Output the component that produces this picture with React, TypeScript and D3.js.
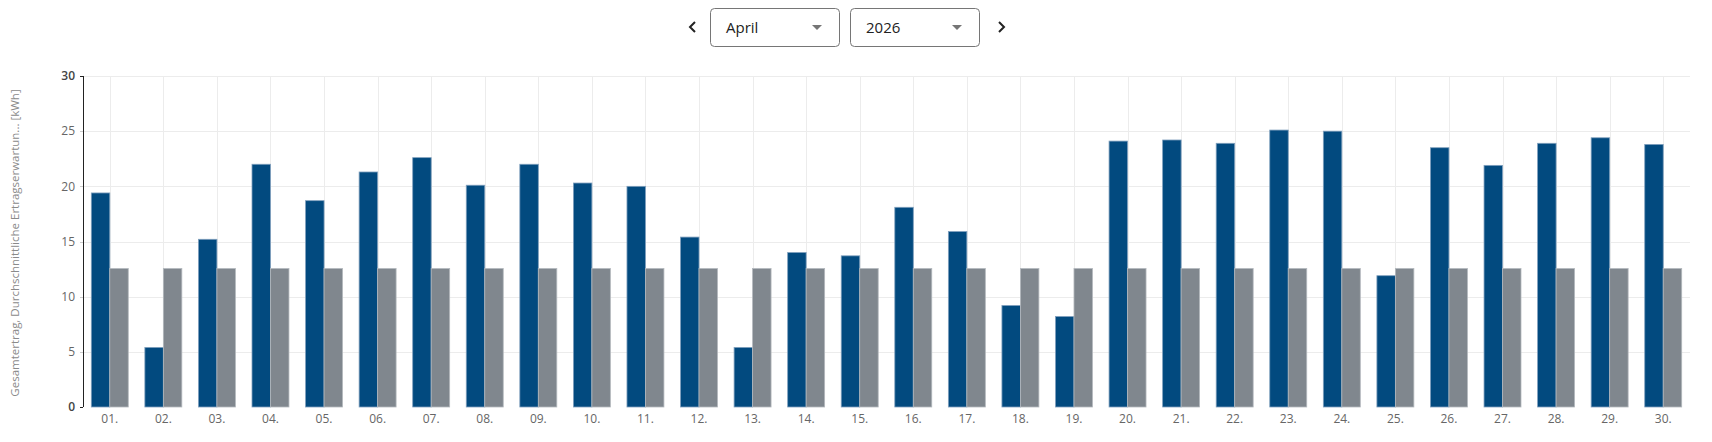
import * as d3 from 'd3';

// daily values, April 2026 [kWh]
const days = d3.range(1, 31).map((d) => (d < 10 ? '0' + d : '' + d) + '.');
const totalYield = [
  19.4, 5.4, 15.2, 22.0, 18.7, 21.3, 22.6, 20.1, 22.0, 20.3,
  20.0, 15.4, 5.4, 14.0, 13.7, 18.1, 15.9, 9.2, 8.2, 24.1,
  24.2, 23.9, 25.1, 25.0, 11.9, 23.5, 21.9, 23.9, 24.4, 23.8,
];
const expectedYield = days.map(() => 12.55);
const yTicks = [0, 5, 10, 15, 20, 25, 30];
const seriesKeys = ['total', 'expected'];

const W = 1712;
const H = 442;
const margin = { top: 76, right: 22, bottom: 35, left: 83 };
const font = '"Open Sans", Lato, sans-serif';

const Chevron = ({ x, y, dir }: { x: number; y: number; dir: number }) => (
  <path
    d={`M${x + 3 * dir},${y - 5} L${x - 2 * dir},${y} L${x + 3 * dir},${y + 5}`}
    fill="none"
    stroke="#222"
    strokeWidth={2}
  />
);

const SelectBox = ({ x, w, label }: { x: number; w: number; label: string }) => (
  <g>
    <rect x={x + 0.5} y={8.5} width={w} height={38} rx={4} fill="#fff" stroke="#767676" />
    <text x={x + 16} y={33} fontSize={15} fill="#222" fontFamily={font}>
      {label}
    </text>
    <path d={`M${x + w - 27},${25} h10 l-5,5 z`} fill="#757575" />
  </g>
);

const App = () => {
  const x = d3
    .scaleBand()
    .domain(days)
    .range([margin.left, W - margin.right])
    .paddingInner(0.31)
    .paddingOuter(0.155);
  const x1 = d3.scaleBand().domain(seriesKeys).range([0, x.bandwidth()]);
  const y = d3
    .scaleLinear()
    .domain([0, 30])
    .range([H - margin.bottom, margin.top]);

  const center = (d: string) => (x(d) as number) + x.bandwidth() / 2;
  const x0 = margin.left;
  const x2 = W - margin.right;

  return (
    <svg
      width={W}
      height={H}
      style={{ position: 'absolute', left: 0, top: 0, display: 'block' }}
    >
      {/* month / year picker */}
      <Chevron x={692} y={27} dir={1} />
      <SelectBox x={710} w={129} label="April" />
      <SelectBox x={850} w={129} label="2026" />
      <Chevron x={1002} y={27} dir={-1} />

      {/* grid */}
      <g stroke="#ececec" strokeWidth={1}>
        {yTicks.slice(1).map((t) => (
          <line key={t} x1={x0} x2={x2} y1={Math.round(y(t)) + 0.5} y2={Math.round(y(t)) + 0.5} />
        ))}
        {days.map((d) => (
          <line
            key={d}
            x1={Math.round(center(d)) + 0.5}
            x2={Math.round(center(d)) + 0.5}
            y1={y(30)}
            y2={y(0)}
          />
        ))}
      </g>

      {/* bars */}
      {days.map((d, i) => (
        <g key={d} transform={`translate(${x(d)},0)`}>
          <rect
            x={x1('total')}
            y={y(totalYield[i])}
            width={x1.bandwidth()}
            height={y(0) - y(totalYield[i])}
            fill="#024a7f"
            stroke="#7f9fbd"
            strokeWidth={0.8}
          />
          <rect
            x={x1('expected')}
            y={y(expectedYield[i])}
            width={x1.bandwidth()}
            height={y(0) - y(expectedYield[i])}
            fill="#80878e"
            stroke="#b3b8bd"
            strokeWidth={0.8}
          />
        </g>
      ))}

      {/* y axis */}
      <line x1={x0 + 0.5} x2={x0 + 0.5} y1={y(30)} y2={y(0)} stroke="#222" strokeWidth={1} />
      {yTicks.map((t) => (
        <g key={t}>
          <line
            x1={x0 - 3}
            x2={x0}
            y1={Math.round(y(t)) + 0.5}
            y2={Math.round(y(t)) + 0.5}
            stroke={t === 0 || t === 30 ? '#222' : '#ccc'}
          />
          <text
            x={x0 - 8}
            y={y(t)}
            dy="0.35em"
            textAnchor="end"
            fontSize={12}
            fontFamily={font}
            fontWeight={t === 0 || t === 30 ? 600 : 400}
            fill={t === 0 || t === 30 ? '#444' : '#666'}
          >
            {t}
          </text>
        </g>
      ))}
      <text
        transform={`translate(19,${243}) rotate(-90)`}
        textAnchor="middle"
        fontSize={11.5}
        fontFamily={font}
        fill="#8a8a8a"
      >
        Gesamtertrag, Durchschnittliche Ertragserwartun... [kWh]
      </text>

      {/* x labels */}
      {days.map((d) => (
        <text
          key={d}
          x={center(d)}
          y={423}
          textAnchor="middle"
          fontSize={12}
          fontFamily={font}
          fill="#666"
        >
          {d}
        </text>
      ))}
    </svg>
  );
};

export default App;
